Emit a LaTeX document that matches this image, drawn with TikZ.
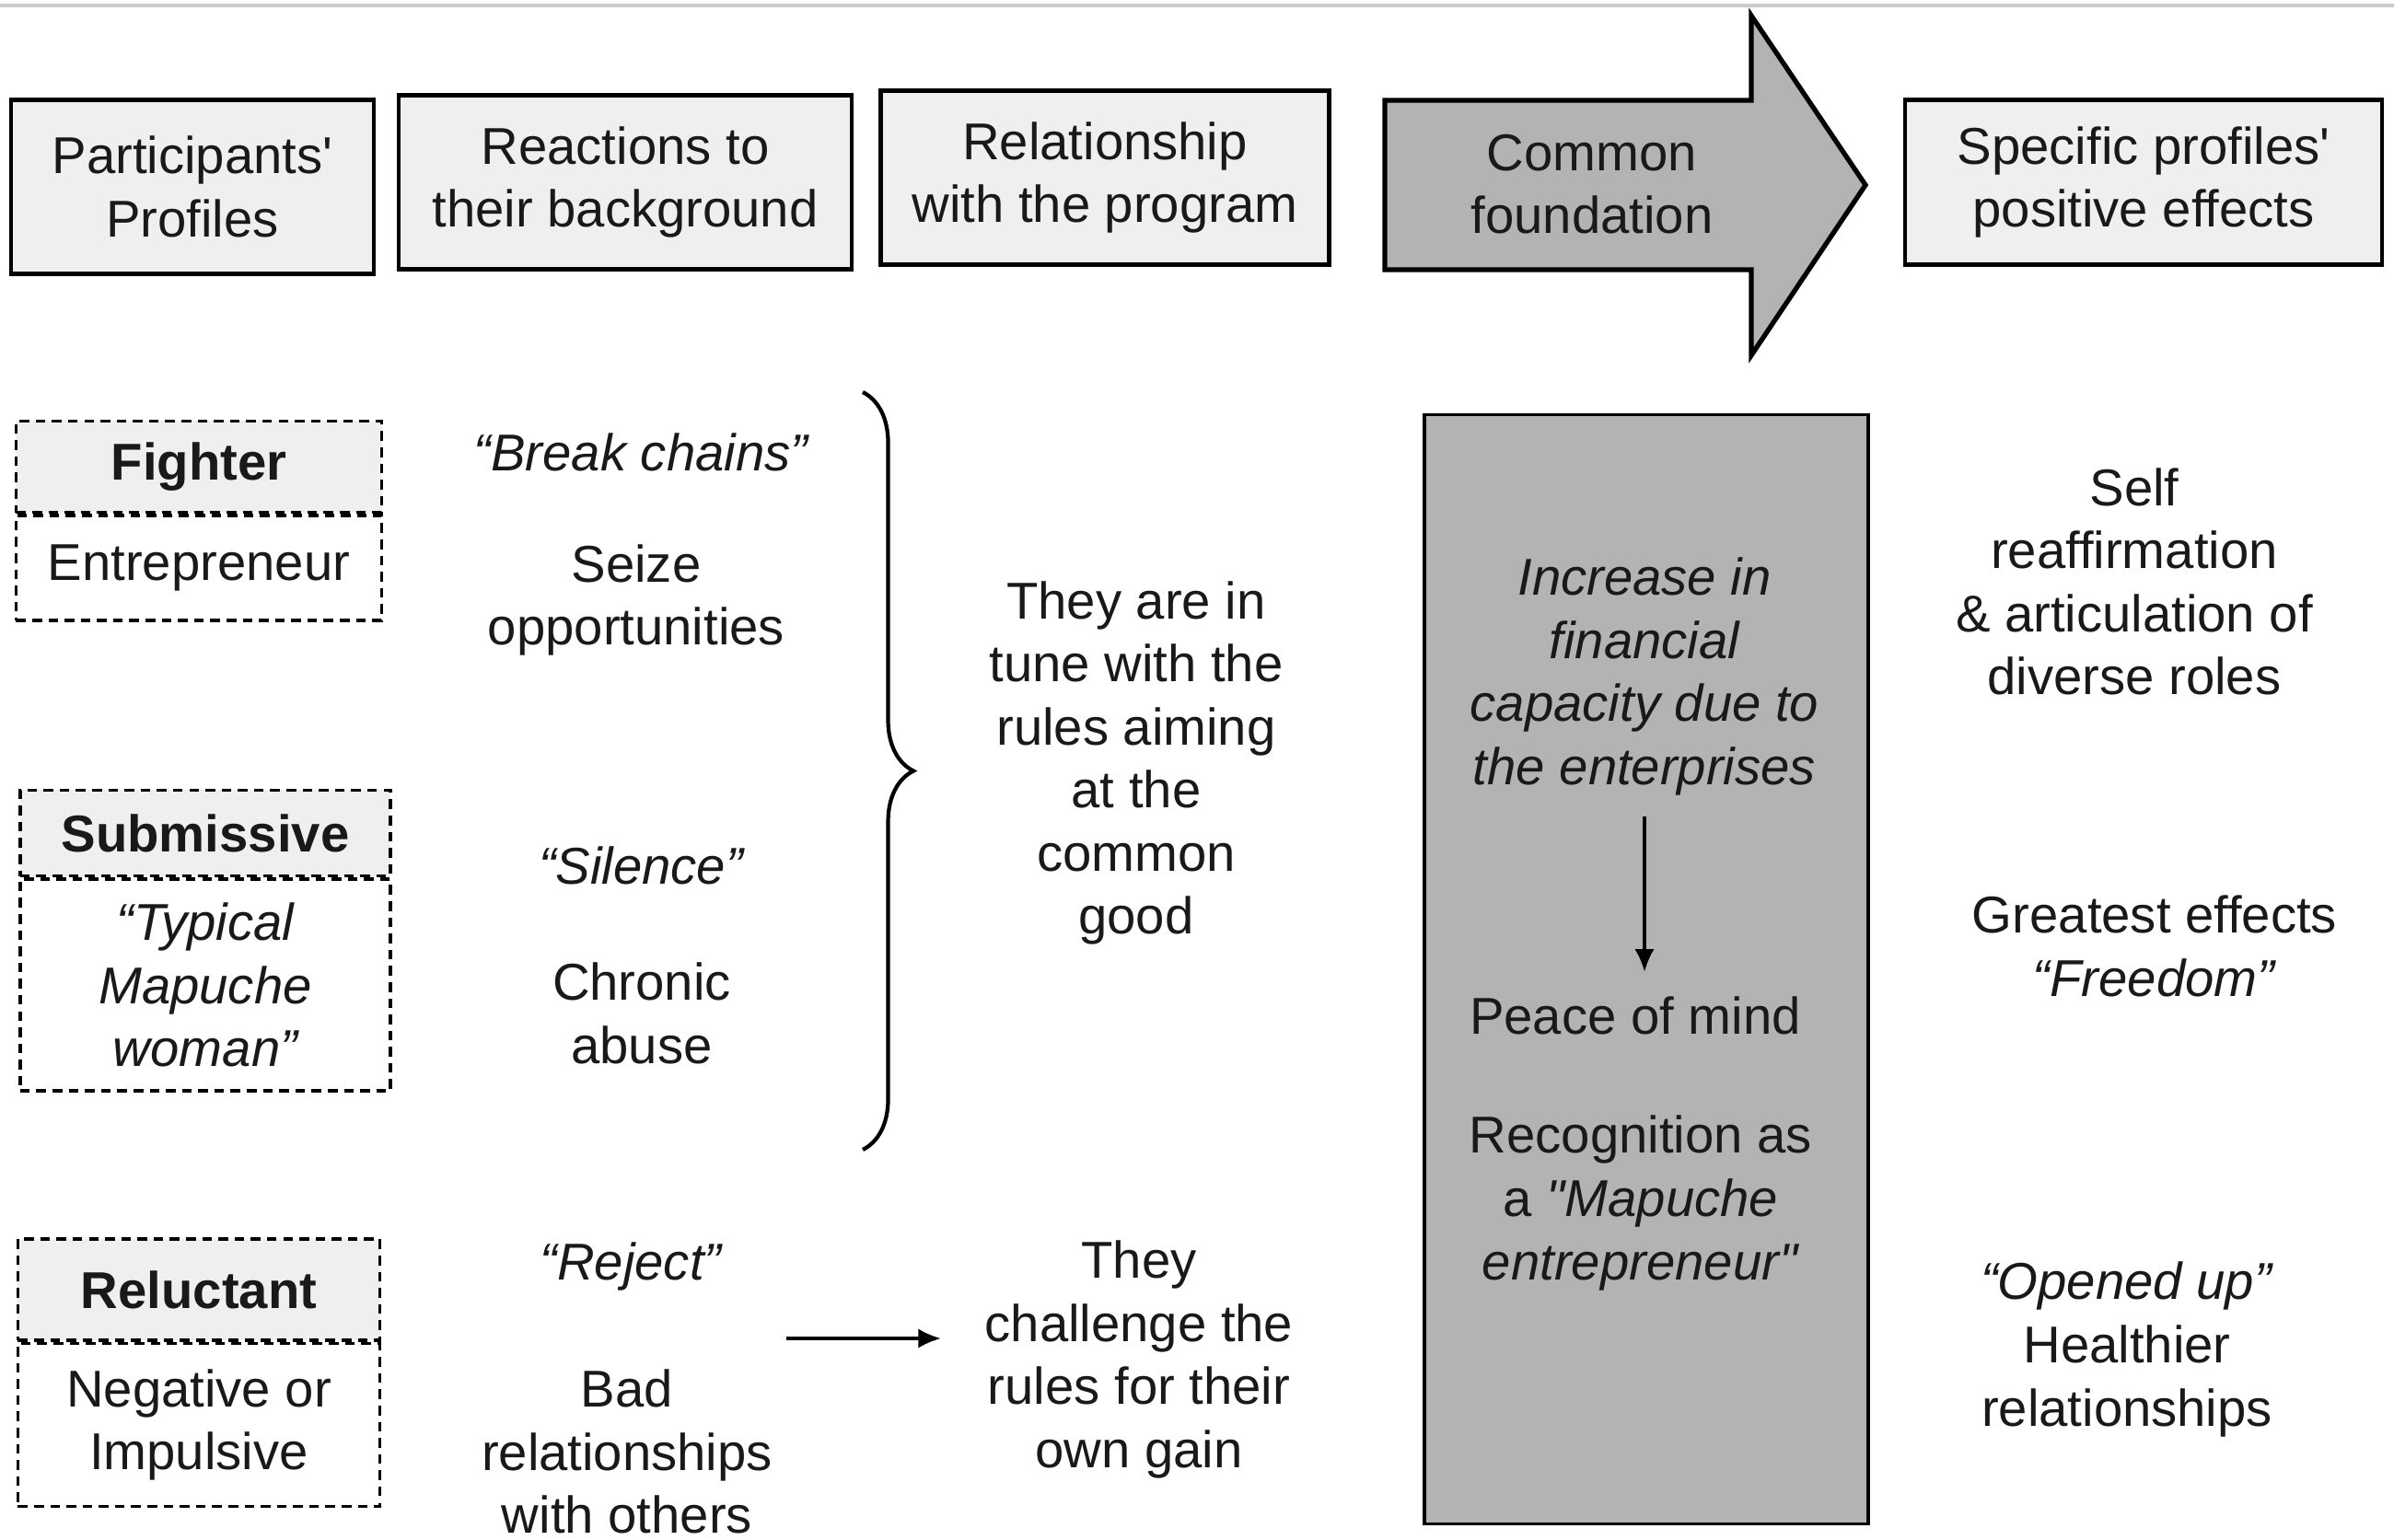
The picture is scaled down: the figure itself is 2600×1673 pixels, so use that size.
\documentclass[tikz,border=0pt]{standalone}
\usepackage{fontspec}
\setmainfont{Liberation Sans}[Ligatures=TeXOff]
\usepackage{tikz}
\usetikzlibrary{positioning,decorations.pathreplacing,arrows.meta}
\definecolor{lightfill}{HTML}{EFEFEF}
\definecolor{midfill}{HTML}{B3B3B3}
\newcommand{\dfont}{\fontsize{16pt}{19.5pt}\selectfont}
\tikzstyle{every node}=[font=\dfont,align=center,text=black!90]
\tikzstyle{ital}=[font=\dfont\itshape]
\tikzstyle{head}=[draw,line width=1.3pt,fill=lightfill,inner sep=2pt]
\tikzstyle{prof}=[draw,line width=1pt,dash pattern=on 3pt off 2pt,inner sep=2pt]
\tikzstyle{link}=[->,line width=1pt]

\begin{document}
\begin{tikzpicture}[x=0.01cm,y=-0.01cm,>={Latex[length=7pt,width=6pt]}]
\useasboundingbox (0,0) rectangle (2600,1673);
\draw[black!20,line width=1pt] (0,6) -- (2600,6);

% headers
\node[head,minimum width=3.94cm,minimum height=1.89cm] (h_0) at (209,203) {Participants'\\Profiles};
\node[head,minimum width=4.92cm,minimum height=1.89cm] (h_1) at (679,198) {Reactions to\\their background};
\node[head,minimum width=4.87cm,minimum height=1.89cm] (h_2) at (1200,193) {Relationship\\with the program};
\draw[line width=1.5pt,fill=midfill] (1504,109) -- (1902,109) -- (1902,17) -- (2026,201)
  -- (1902,386) -- (1902,293) -- (1504,293) -- cycle;
\node (h_3) at (1729,200) {Common\\foundation};
\node[head,minimum width=5.18cm,minimum height=1.79cm] (h_4) at (2328,198) {Specific profiles'\\positive effects};

% profiles
\node[prof,fill=lightfill,minimum width=3.97cm,minimum height=0.99cm] (p_0) at (216,507) {\bfseries Fighter};
\node[prof,minimum width=3.97cm,minimum height=1.14cm,below=0pt of p_0] (p_1) {Entrepreneur};
\node[prof,fill=lightfill,minimum width=4.02cm,minimum height=0.93cm] (p_2) at (223,905) {\bfseries Submissive};
\node[prof,ital,minimum width=4.02cm,minimum height=2.30cm,below=0pt of p_2] (p_3) {“Typical\\Mapuche\\woman”};
\node[prof,fill=lightfill,minimum width=3.93cm,minimum height=1.10cm] (p_4) at (216,1401) {\bfseries Reluctant};
\node[prof,minimum width=3.93cm,minimum height=1.77cm,below=0pt of p_4] (p_5) {Negative or\\Impulsive};

% reactions
\node[ital] (r_0) at (696,491) {“Break chains”};
\node (r_1) at (691,652) {Seize\\opportunities};
\node[ital] (r_2) at (696,940) {“Silence”};
\node (r_3) at (697,1101) {Chronic\\abuse};
\node[ital] (r_4) at (685,1376) {“Reject”};
\node (r_5) at (681,1577) {Bad\\relationships\\with others};

% relationship with the program
\coordinate (b_0) at (937,426);
\coordinate (b_1) at (937,1249);
\draw[decorate,decoration={brace,amplitude=0.55cm},line width=1.2pt] (b_0) -- (b_1);
\node (tune) at (1234,829) {They are in\\tune with the\\rules aiming\\at the\\common\\good};
\node (chal) at (1237,1477) {They\\challenge the\\rules for their\\own gain};
\coordinate (r_a) at (854,1454);
\draw[link,shorten >=10pt] (r_a) -- (r_a -| chal.west);

% common foundation
\node[draw,line width=1pt,fill=midfill,minimum width=4.82cm,minimum height=12.04cm] (found) at (1788,1053) {};
\node[ital] (incr) at (1786,735) {Increase in\\financial\\capacity due to\\the enterprises};
\node (peace) at (1776,1103) {Peace of mind};
\node (recog) at (1782,1307) {Recognition as\\a \textit{"Mapuche}\\\textit{entrepreneur"}};
\draw[link,shorten <=3pt,shorten >=4pt] (incr.south) -- (incr.south |- peace.north);

% effects
\node (e_0) at (2318,632) {Self\\reaffirmation\\\& articulation of\\diverse roles};
\node (e_1) at (2340,1028) {Greatest effects\\\textit{“Freedom”}};
\node (e_2) at (2310,1466) {\textit{“Opened up”}\\Healthier\\relationships};
\end{tikzpicture}
\end{document}
